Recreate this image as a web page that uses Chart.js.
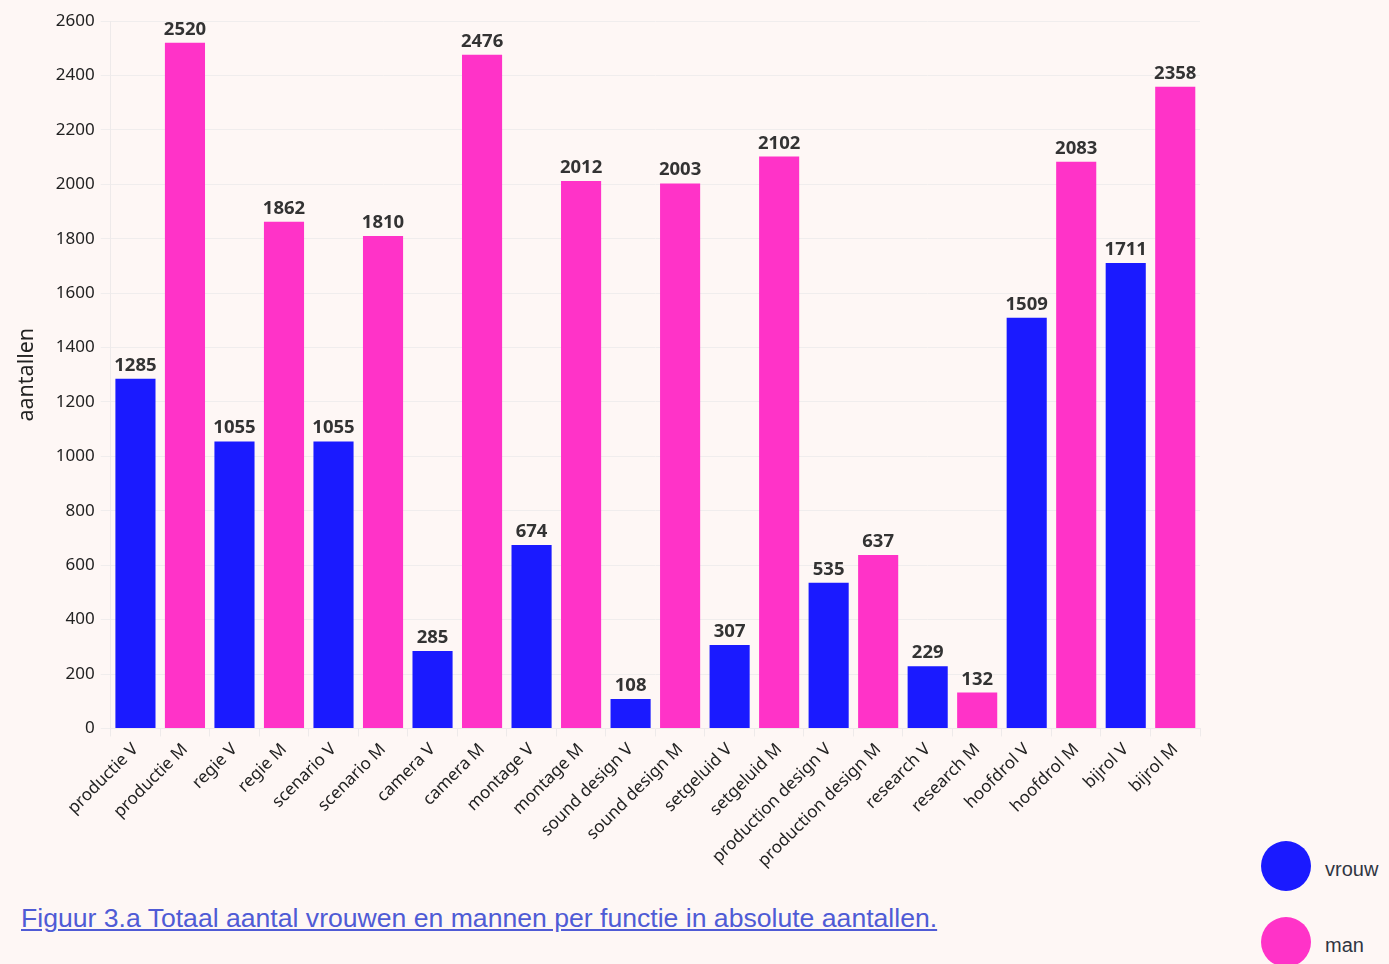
<!DOCTYPE html>
<html>
<head>
<meta charset="utf-8">
<script src="https://cdn.jsdelivr.net/npm/chart.js@4/dist/chart.umd.min.js"></script>
<style>
html,body{margin:0;padding:0;background:#fef7f5;width:1389px;height:964px;overflow:hidden;}
#wrap{position:absolute;left:0;top:0;width:1210px;height:890px;}
#caption{position:absolute;left:21px;top:903px;font-family:"Liberation Sans",Arial,sans-serif;font-size:26.6px;color:#4f5bd5;text-decoration:underline;}
.leg{position:absolute;left:1261px;width:50px;height:50px;border-radius:50%;}
.legt{position:absolute;left:1325px;font-family:"Liberation Sans",Arial,sans-serif;font-size:20px;color:#2f3542;}
</style>
</head>
<body>
<div id="wrap"><canvas id="c"></canvas></div>
<div id="caption">Figuur 3.a Totaal aantal vrouwen en mannen per functie in absolute aantallen.</div>
<div class="leg" style="top:841px;background:#1a1aff"></div>
<div class="legt" style="top:858px">vrouw</div>
<div class="leg" style="top:917px;background:#ff33c8"></div>
<div class="legt" style="top:934px">man</div>
<script>
const categories = ["productie V","productie M","regie V","regie M","scenario V","scenario M","camera V","camera M","montage V","montage M","sound design V","sound design M","setgeluid V","setgeluid M","production design V","production design M","research V","research M","hoofdrol V","hoofdrol M","bijrol V","bijrol M"];
const values = [1285,2520,1055,1862,1055,1810,285,2476,674,2012,108,2003,307,2102,535,637,229,132,1509,2083,1711,2358];
const genders = ["V","M","V","M","V","M","V","M","V","M","V","M","V","M","V","M","V","M","V","M","V","M"];
const yTicks = [0,200,400,600,800,1000,1200,1400,1600,1800,2000,2200,2400,2600];
const colorFor = {V:"#1a1aff", M:"#ff33c8"};

const labelPlugin = {
  id:"valueLabels",
  afterDatasetsDraw(chart){
    const ctx = chart.ctx;
    const meta = chart.getDatasetMeta(0);
    ctx.save();
    ctx.font = "bold 18.5px 'Noto Sans', sans-serif";
    ctx.fillStyle = "#333";
    ctx.textAlign = "center";
    ctx.textBaseline = "bottom";
    meta.data.forEach((el,i)=>{
      ctx.fillText(String(values[i]), el.x, el.y - 4);
    });
    ctx.restore();
  }
};

new Chart(document.getElementById("c"),{
  type:"bar",
  data:{
    labels:categories,
    datasets:[{
      data:values,
      backgroundColor:genders.map(g=>colorFor[g]),
      borderWidth:0,
      barPercentage:0.81,
      categoryPercentage:1
    }]
  },
  options:{
    responsive:true,
    maintainAspectRatio:false,
    animation:false,
    layout:{padding:{top:21,left:10,right:10,bottom:16}},
    plugins:{legend:{display:false},tooltip:{enabled:false}},
    scales:{
      x:{
        grid:{display:true,drawOnChartArea:false,color:"#eeeaea",tickLength:8},
        border:{color:"#eeeaea"},
        ticks:{autoSkip:false,maxRotation:45,minRotation:45,color:"#222",font:{family:"'Noto Sans', sans-serif",size:17}}
      },
      y:{
        min:0,max:2600,
        afterBuildTicks(axis){axis.ticks = yTicks.map(v=>({value:v}));},
        grid:{color:"#f0eded",tickLength:10},
        border:{color:"#eeeaea"},
        title:{display:true,text:"aantallen",color:"#222",padding:{top:4,bottom:10},font:{family:"'Noto Sans', sans-serif",size:21.5}},
        ticks:{color:"#222",padding:6,font:{family:"'Noto Sans', sans-serif",size:17},callback:(v)=>String(v)}
      }
    }
  },
  plugins:[labelPlugin]
});
</script>
</body>
</html>
